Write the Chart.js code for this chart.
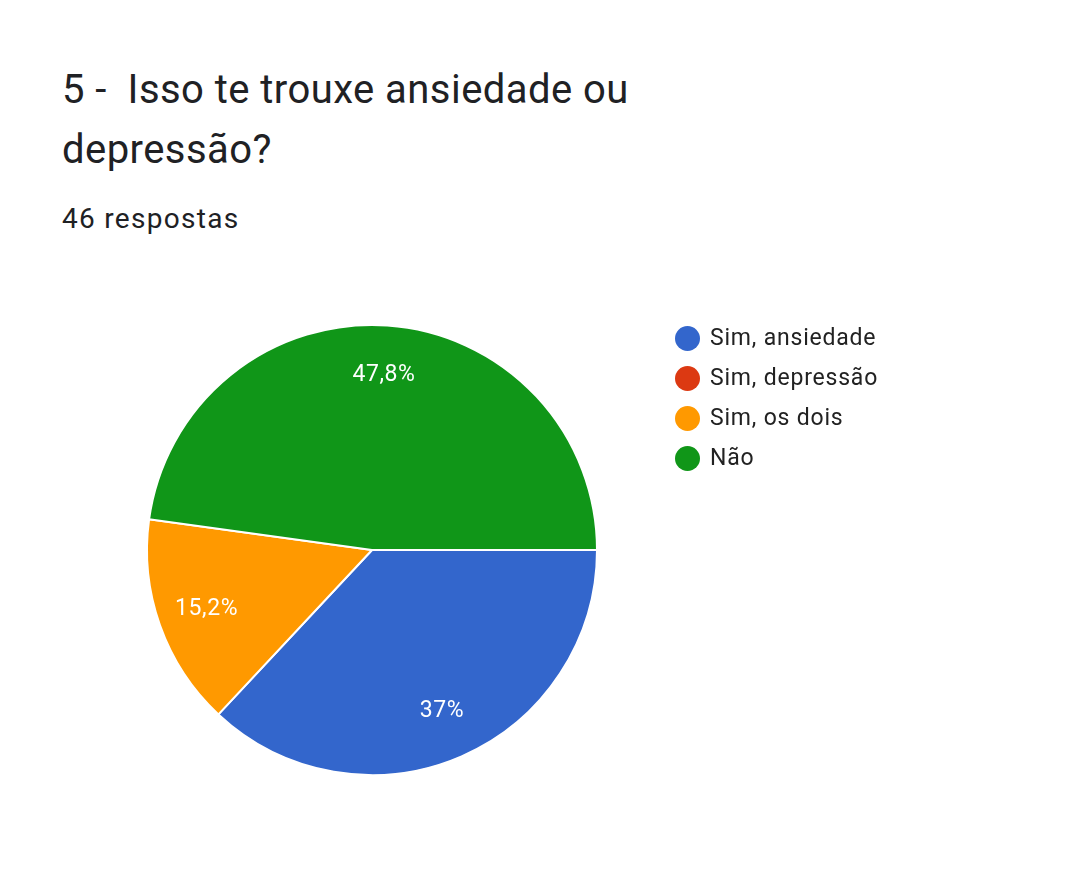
<!DOCTYPE html>
<html>
<head>
<meta charset="utf-8">
<script src="https://cdn.jsdelivr.net/npm/chart.js@4/dist/chart.umd.min.js"></script>
<style>
  html, body { margin: 0; padding: 0; background: #fff; }
  body { width: 1080px; height: 884px; position: relative; overflow: hidden; font-family: Roboto, "Noto Sans", sans-serif; color: #202124; }
  #title { position: absolute; left: 62px; top: 60px; font-size: 40px; line-height: 60px; letter-spacing: 0.45px; white-space: pre; }
  #sub { position: absolute; left: 62px; top: 203px; font-size: 28px; line-height: 32px; letter-spacing: 1.3px; }
  #wrap { position: absolute; left: 0; top: 0; width: 1080px; height: 884px; }
  #legend { position: absolute; left: 675px; top: 322px; }
  .item { height: 40px; display: flex; align-items: flex-start; }
  .dot { width: 25px; height: 25px; border-radius: 50%; margin-top: 4px; margin-right: 10px; }
  .lbl { font-size: 23px; line-height: 32px; letter-spacing: 0.8px; color: #222; }
</style>
</head>
<body>
<div id="title">5 -  Isso te trouxe ansiedade ou
depressão?</div>
<div id="sub">46 respostas</div>
<div id="wrap"><canvas id="c" width="1080" height="884"></canvas></div>
<div id="legend"></div>
<script>
const categories = ["Sim, ansiedade", "Sim, depressão", "Sim, os dois", "Não"];
const counts = [17, 0, 7, 22];
const colors = ["#3366cc", "#dc3912", "#ff9900", "#109618"];

const total = counts.reduce((a, b) => a + b, 0);
function fmt(v) {
  const p = (v / total * 100).toFixed(1);
  return (p.endsWith(".0") ? p.slice(0, -2) : p.replace(".", ",")) + "%";
}

const leg = document.getElementById("legend");
categories.forEach((c, i) => {
  const d = document.createElement("div");
  d.className = "item";
  d.innerHTML = '<div class="dot" style="background:' + colors[i] + '"></div><div class="lbl">' + c + '</div>';
  leg.appendChild(d);
});

const labelPlugin = {
  id: "sliceLabels",
  afterDatasetsDraw(chart) {
    const ctx = chart.ctx;
    const meta = chart.getDatasetMeta(0);
    ctx.save();
    ctx.fillStyle = "#ffffff";
    ctx.font = "23px Roboto";
    if ("letterSpacing" in ctx) ctx.letterSpacing = "0.6px";
    ctx.textAlign = "center";
    ctx.textBaseline = "middle";
    meta.data.forEach((arc, i) => {
      const v = counts[i];
      if (!v) return;
      const mid = (arc.startAngle + arc.endAngle) / 2;
      const r = arc.outerRadius * 0.78;
      ctx.fillText(fmt(v), arc.x + Math.cos(mid) * r, arc.y + Math.sin(mid) * r);
    });
    ctx.restore();
  }
};

new Chart(document.getElementById("c"), {
  type: "pie",
  data: {
    labels: categories,
    datasets: [{
      data: counts,
      backgroundColor: colors,
      borderColor: "#ffffff",
      borderWidth: 2
    }]
  },
  options: {
    responsive: false,
    animation: false,
    rotation: 90,
    layout: { padding: { left: 146, right: 482, top: 324, bottom: 108 } },
    plugins: { legend: { display: false }, tooltip: { enabled: false } }
  },
  plugins: [labelPlugin]
});
</script>
</body>
</html>
